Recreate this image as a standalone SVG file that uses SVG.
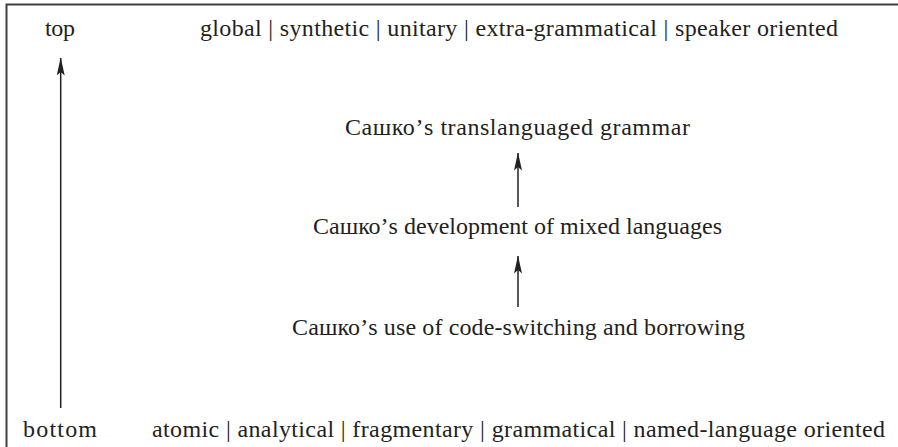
<svg xmlns="http://www.w3.org/2000/svg" width="898" height="447" viewBox="0 0 898 447">
<defs>
<style>
.t{font-family:'Liberation Serif','DejaVu Serif',serif;font-size:24px;fill:#231f20}
.c{text-anchor:middle}
.ln{stroke:#231f20;stroke-width:1.5;fill:none}
.frame{stroke:#404040;stroke-width:2;fill:none}
</style>
<marker id="ah" viewBox="0 0 18 8" refX="17.5" refY="4" markerWidth="18" markerHeight="8" markerUnits="userSpaceOnUse" orient="auto">
<path d="M18,4 L0,0 L3.5,4 L0,8 Z" fill="#231f20"/>
</marker>
</defs>
<path class="frame" d="M6.5,447 V4.5 H898"/>
<g id="axis">
<text x="60" y="36" class="t c" textLength="30">top</text>
<text x="60" y="437" class="t c" textLength="74">bottom</text>
</g>
<g id="top-label"><text x="519" y="36" class="t c" textLength="638">global | synthetic | unitary | extra-grammatical | speaker oriented</text></g>
<g id="bottom-label"><text x="518.5" y="437" class="t c" textLength="733">atomic | analytical | fragmentary | grammatical | named-language oriented</text></g>
<g id="n-grammar"><text x="517.5" y="135" class="t c" textLength="345">Сашко’s translanguaged grammar</text></g>
<g id="n-mixed"><text x="517.5" y="234" class="t c" textLength="409">Сашко’s development of mixed languages</text></g>
<g id="n-use"><text x="518.5" y="335" class="t c" textLength="453">Сашко’s use of code-switching and borrowing</text></g>
<g id="connectors">
<line class="ln" x1="60.7" y1="408" x2="60.7" y2="58" marker-end="url(#ah)"/>
<line class="ln" x1="518" y1="207" x2="518" y2="153" marker-end="url(#ah)"/>
<line class="ln" x1="518" y1="307" x2="518" y2="256" marker-end="url(#ah)"/>
</g>
</svg>
